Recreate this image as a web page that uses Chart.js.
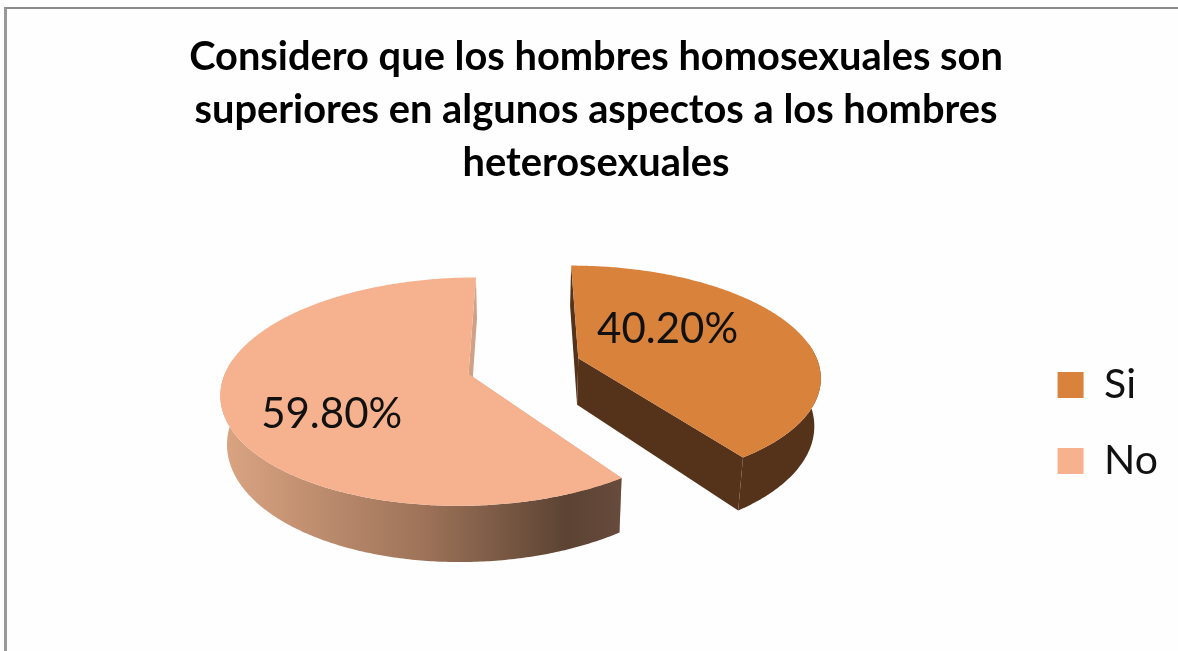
<!DOCTYPE html>
<html>
<head>
<meta charset="utf-8">
<style>
  html, body { margin: 0; padding: 0; background: #fefefe; overflow: hidden; }
  #wrap { position: relative; width: 1178px; height: 651px; }
  #frame { position: absolute; left: 4px; top: 7px; right: 0; bottom: 0; border-left: 3px solid #999; border-top: 2px solid #8c8c8c; }
  canvas { position: absolute; left: 0; top: 0; filter: blur(0.4px); }
</style>
<script src="https://cdn.jsdelivr.net/npm/chart.js@4"></script>
</head>
<body>
<div id="wrap">
  <div id="frame"></div>
  <canvas id="chart" width="1178" height="651"></canvas>
</div>
<script>
const categories = ['Si', 'No'];
const values = [40.2, 59.8];
const sliceColors = ['#D9823C', '#F6B28F'];
const titleLines = [
  'Considero que los hombres homosexuales son',
  'superiores en algunos aspectos a los hombres',
  'heterosexuales'
];

// the pie is tilted by hand, chart.js only has the flat one
const pie3d = {
  id: 'pie3d',
  afterLayout(chart, args, o) {
    // legend sits next to the pie, not in the middle of the canvas
    chart.legend.top += o.legendShift;
    chart.legend.bottom += o.legendShift;
  },
  beforeDatasetsDraw(chart, args, o) {
    const ctx = chart.ctx;
    const arcs = chart.getDatasetMeta(0).data;

    const project = function(u, v, low) {
      const w = 1 / (1 - o.tilt * v);
      let x = o.cx + o.rx * u * w;
      let y = o.cy + o.ry * v * w;
      if (low) {
        x = o.cx + (x - o.cx) * o.taper;
        y += o.depth * w;
      }
      return [x, y];
    };

    for (let i = arcs.length - 1; i >= 0; i--) {
      const a = arcs[i].getProps(['startAngle', 'endAngle', 'outerRadius'], true);
      const mid = (a.startAngle + a.endAngle) / 2;
      const e = arcs[i].options.offset / a.outerRadius;
      const u0 = e * Math.cos(mid);
      const v0 = e * Math.sin(mid);

      const rim = [];
      const front = [];
      const n = Math.ceil((a.endAngle - a.startAngle) * 90);
      for (let j = 0; j <= n; j++) {
        const t = a.startAngle + (a.endAngle - a.startAngle) * j / n;
        const p = [u0 + Math.cos(t), v0 + Math.sin(t)];
        rim.push(p);
        if (Math.sin(t) > -0.15) front.push(p);  // back of the rim is never seen
      }

      const poly = function(points, fill) {
        ctx.beginPath();
        points.forEach(function(p, k) {
          if (k === 0) ctx.moveTo(p[0], p[1]); else ctx.lineTo(p[0], p[1]);
        });
        ctx.closePath();
        ctx.fillStyle = fill;
        ctx.fill();
      };

      const side = o.sides[i];
      let wall = side.color;
      if (side.stops) {
        wall = ctx.createLinearGradient(side.from, 0, side.to, 0);
        side.stops.forEach(function(s) { wall.addColorStop(s[0], s[1]); });
      }

      // cut faces
      const first = rim[0], last = rim[rim.length - 1];
      poly([project(u0, v0), project(first[0], first[1]), project(first[0], first[1], true), project(u0, v0, true)], side.cut);
      poly([project(u0, v0), project(last[0], last[1]), project(last[0], last[1], true), project(u0, v0, true)], side.cut);

      // outer wall
      const high = front.map(function(p) { return project(p[0], p[1]); });
      const low = front.map(function(p) { return project(p[0], p[1], true); }).reverse();
      poly(high.concat(low), wall);

      // top face
      poly([project(u0, v0)].concat(rim.map(function(p) { return project(p[0], p[1]); })), arcs[i].options.backgroundColor);

      // value label
      const at = project(u0 + o.labels[i][0], v0 + o.labels[i][1]);
      ctx.save();
      ctx.fillStyle = '#111';
      ctx.font = o.labelFont;
      ctx.textAlign = 'center';
      ctx.textBaseline = 'middle';
      ctx.fillText(values[i].toFixed(2) + '%', at[0], at[1]);
      ctx.restore();
    }
    return false;
  }
};

new Chart(document.getElementById('chart'), {
  type: 'pie',
  data: {
    labels: categories,
    datasets: [{
      data: values,
      backgroundColor: sliceColors,
      borderWidth: 0,
      offset: 46
    }]
  },
  options: {
    responsive: false,
    animation: false,
    rotation: 0,
    layout: { padding: { left: 24, right: 10, top: 31, bottom: 20 } },
    plugins: {
      title: {
        display: true,
        text: titleLines,
        color: '#000',
        font: { family: 'Lato', weight: 'bold', size: 39.8, lineHeight: '53px' },
        padding: { top: 0, bottom: 10 }
      },
      legend: {
        position: 'right',
        labels: {
          boxWidth: 26,
          boxHeight: 26,
          padding: 35,
          color: '#111',
          font: { family: 'Lato', size: 41 }
        }
      },
      tooltip: { enabled: false },
      pie3d: {
        cx: 524,
        cy: 366,
        rx: 241,
        ry: 109,
        tilt: 0.153,
        depth: 47,
        taper: 0.978,
        legendShift: 92,
        labelFont: '42px Lato',
        labels: [[0.40, -0.276], [-0.52, 0.34]],
        sides: [
          { color: '#55321A', cut: '#55321A' },
          {
            cut: '#CFA287',
            from: 228, to: 617,
            stops: [[0, '#D9A381'], [0.5, '#9E7359'], [0.87, '#5C4333'], [1, '#664A3C']]
          }
        ]
      }
    }
  },
  plugins: [pie3d]
});
</script>
</body>
</html>
